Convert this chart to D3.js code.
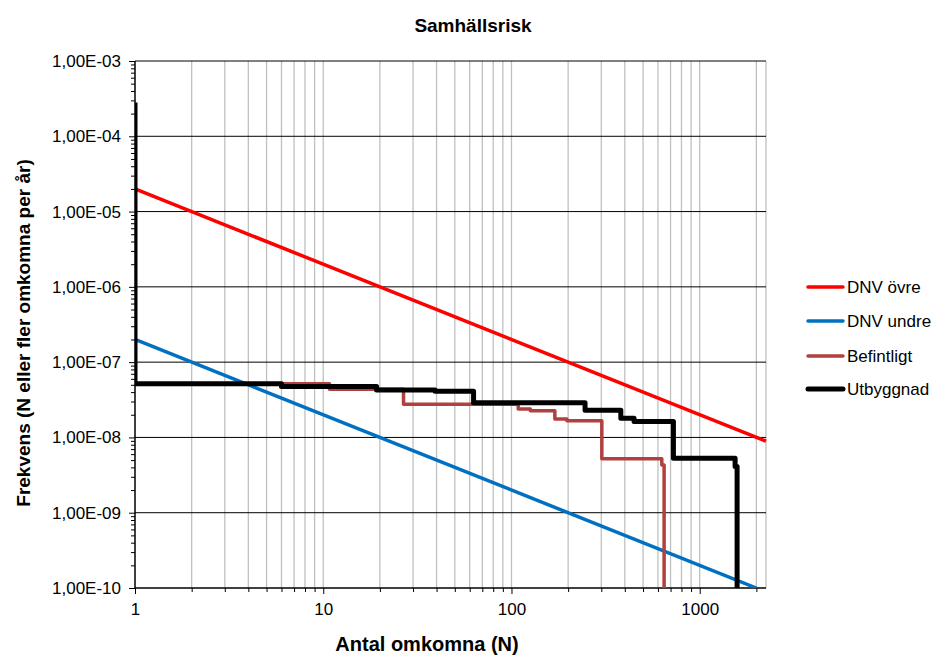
<!DOCTYPE html>
<html>
<head>
<meta charset="utf-8">
<script src="https://cdn.jsdelivr.net/npm/d3@7"></script>
<style>
  body { margin: 0; background: #fff; }
  svg { display: block; font-family: "Liberation Sans", Arial, sans-serif; }
</style>
</head>
<body>
<svg id="chart" width="933" height="655"></svg>
<script>
// ---- Data ----
const titleText = "Samhällsrisk";
const xLabelText = "Antal omkomna (N)";
const yLabelText = "Frekvens (N eller fler omkomna per år)";

const xDomain = [1, 2250];
const yDomain = [1e-10, 1e-3];
const xTickValues = [1, 10, 100, 1000];
const xTickLabels = ["1", "10", "100", "1000"];
const yTickValues = [1e-10, 1e-9, 1e-8, 1e-7, 1e-6, 1e-5, 1e-4, 1e-3];
const yTickLabels = ["1,00E-10", "1,00E-09", "1,00E-08", "1,00E-07", "1,00E-06", "1,00E-05", "1,00E-04", "1,00E-03"];

const dnvOvreN = [1, 2250];
const dnvOvreF = [2.0e-5, 8.9e-9];
const dnvUndreN = [1, 2000];
const dnvUndreF = [2.0e-7, 1.0e-10];

const befintligtN = [1, 10.8, 26.7, 108.6, 126, 170, 197, 302, 629, 647];
const befintligtF = [5.15e-8, 4.35e-8, 2.76e-8, 2.39e-8, 2.27e-8, 1.76e-8, 1.67e-8, 5.2e-9, 4.3e-9, 1e-11];

const utbyggnadN = [1, 1, 6, 19.2, 39.3, 62.9, 246, 381, 448, 725, 1542, 1580];
const utbyggnadF = [2.8e-4, 5.15e-8, 4.75e-8, 4.28e-8, 4.12e-8, 2.88e-8, 2.3e-8, 1.8e-8, 1.63e-8, 5.3e-9, 4.1e-9, 1e-11];

const seriesNames = ["DNV övre", "DNV undre", "Befintligt", "Utbyggnad"];
const seriesColors = ["#ff0000", "#0070c0", "#b0413e", "#000000"];
const seriesWidths = [3.5, 3.5, 3.5, 5];

// ---- Layout ----
const L = 135, R = 766, T = 61, B = 588;
const svg = d3.select("#chart");
const x = d3.scaleLog().domain(xDomain).range([L, R]);
const y = d3.scaleLog().domain(yDomain).range([B, T]);

const xMinor = [];
for (let p = 0; p <= 3; p++) for (let m = 1; m <= 9; m++) {
  const v = m * Math.pow(10, p);
  if (v > 1 && v <= xDomain[1]) xMinor.push(v);
}
const yMinor = [];
for (let p = -10; p < -3; p++) for (let m = 2; m <= 9; m++) yMinor.push(m * Math.pow(10, p));

// vertical gray gridlines
svg.append("g").selectAll("line").data(xMinor.concat([xDomain[1]])).join("line")
  .attr("x1", d => x(d)).attr("x2", d => x(d))
  .attr("y1", T).attr("y2", B)
  .attr("stroke", "#c0c0c0").attr("stroke-width", 1.3);

// horizontal black gridlines
svg.append("g").selectAll("line").data(yTickValues.slice(1)).join("line")
  .attr("x1", L).attr("x2", R)
  .attr("y1", d => y(d)).attr("y2", d => y(d))
  .attr("stroke", "#000").attr("stroke-width", 1);

// axes
const xAxis = d3.axisBottom(x).tickValues(xMinor.filter(v => xTickValues.indexOf(v) < 0)).tickSize(4).tickFormat("");
svg.append("g").attr("transform", `translate(0,${B})`).call(xAxis)
  .call(g => g.select(".domain").remove())
  .call(g => g.selectAll("line").attr("stroke", "#000"));
const xAxisMajor = d3.axisBottom(x).tickValues(xTickValues).tickSize(6)
  .tickFormat((d, i) => xTickLabels[i]);
svg.append("g").attr("transform", `translate(0,${B})`).call(xAxisMajor)
  .call(g => g.select(".domain").remove())
  .call(g => g.selectAll("line").attr("stroke", "#000"))
  .call(g => g.selectAll("text").attr("font-size", 17).attr("fill", "#000")
    .attr("font-family", "Liberation Sans, Arial, sans-serif").attr("dy", "1.05em"));

const yAxisMinor = d3.axisLeft(y).tickValues(yMinor).tickSize(4).tickFormat("");
svg.append("g").attr("transform", `translate(${L},0)`).call(yAxisMinor)
  .call(g => g.select(".domain").remove())
  .call(g => g.selectAll("line").attr("stroke", "#000"));
const yAxisMajor = d3.axisLeft(y).tickValues(yTickValues).tickSize(6)
  .tickFormat((d, i) => yTickLabels[i]).tickPadding(8);
svg.append("g").attr("transform", `translate(${L},0)`).call(yAxisMajor)
  .call(g => g.select(".domain").remove())
  .call(g => g.selectAll("line").attr("stroke", "#000"))
  .call(g => g.selectAll("text").attr("font-size", 17).attr("fill", "#000")
    .attr("font-family", "Liberation Sans, Arial, sans-serif"));

// axis lines
svg.append("line").attr("x1", L).attr("x2", L).attr("y1", T).attr("y2", B).attr("stroke", "#000").attr("stroke-width", 1.5);
svg.append("line").attr("x1", L).attr("x2", R).attr("y1", B).attr("y2", B).attr("stroke", "#000").attr("stroke-width", 1.5);

// clip
svg.append("clipPath").attr("id", "plotclip").append("rect")
  .attr("x", L).attr("y", T - 2).attr("width", R - L + 2).attr("height", B - T + 2);

const plot = svg.append("g").attr("clip-path", "url(#plotclip)");
const straight = d3.line().x(d => x(d[0])).y(d => y(d[1]));
const step = d3.line().x(d => x(d[0])).y(d => y(d[1])).curve(d3.curveStepAfter);

const seriesData = [
  { pts: dnvOvreN.map((n, i) => [n, dnvOvreF[i]]), gen: straight },
  { pts: dnvUndreN.map((n, i) => [n, dnvUndreF[i]]), gen: straight },
  { pts: befintligtN.map((n, i) => [n, befintligtF[i]]), gen: step },
  { pts: utbyggnadN.map((n, i) => [n, utbyggnadF[i]]), gen: step }
];
seriesData.forEach((s, i) => {
  plot.append("path").attr("d", s.gen(s.pts))
    .attr("fill", "none").attr("stroke", seriesColors[i])
    .attr("stroke-width", seriesWidths[i]).attr("stroke-linejoin", "round");
});

// title & labels
svg.append("text").attr("x", 473).attr("y", 32).attr("text-anchor", "middle")
  .attr("font-size", 19).attr("font-weight", "bold").text(titleText);
svg.append("text").attr("x", 427).attr("y", 651).attr("text-anchor", "middle")
  .attr("font-size", 20).attr("font-weight", "bold").text(xLabelText);
svg.append("text").attr("transform", "translate(30,333) rotate(-90)").attr("text-anchor", "middle")
  .attr("font-size", 19).attr("font-weight", "bold").text(yLabelText);

// legend
const legendY = [287, 321, 356, 389];
const lg = svg.append("g");
seriesNames.forEach((name, i) => {
  lg.append("line").attr("x1", 808).attr("x2", 843).attr("y1", legendY[i]).attr("y2", legendY[i])
    .attr("stroke", seriesColors[i]).attr("stroke-width", seriesWidths[i]).attr("stroke-linecap", "round");
  lg.append("text").attr("x", 847).attr("y", legendY[i]).attr("dy", "0.35em")
    .attr("font-size", 17).text(name);
});
</script>
</body>
</html>
